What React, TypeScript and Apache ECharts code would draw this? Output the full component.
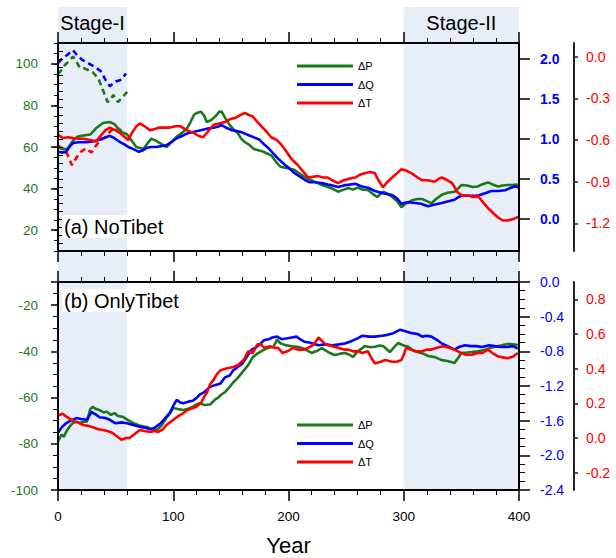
import React, { useEffect, useRef } from "react";
import * as echarts from "echarts";

type Pt = [number, number];

const FONT = '"Liberation Sans", Arial, Helvetica, sans-serif';
const GREEN = "#1a7a1a";
const BLUE = "#0000ff";
const RED = "#ff0000";
const SHADE = "#e8eef7";

const seriesNames = ["ΔP", "ΔQ", "ΔT"];
const stages: [string, number, number][] = [
  ["Stage-I", 0, 60],
  ["Stage-II", 300, 400],
];
const xTicks = [0, 100, 200, 300, 400];
const topLeftTicks = [20, 40, 60, 80, 100];
const topBlueTicks = [0, 0.5, 1.0, 1.5, 2.0];
const topRedTicks = [0, -0.3, -0.6, -0.9, -1.2];
const botRedTicks = [-0.2, 0, 0.2, 0.4, 0.6, 0.8];

// (a) NoTibet — dashed (years 0-60)
const topPDash: Pt[] = [[0,95],[3,97],[6,99.4],[9,101],[13,103.5],[16,101],[19,98],[22,98],[26,97],[30,96],[35,93],[39,87.4],[43,81.6],[46,83],[48,85],[52,81.6],[56,84],[60,86.5]];
const topQDash: Pt[] = [[0,1.95],[4,2.01],[8,2.05],[13,2.11],[17,2.04],[21,1.99],[26,1.95],[32,1.9],[37,1.85],[42,1.72],[45,1.66],[50,1.72],[55,1.74],[59,1.82]];
const topTDash: Pt[] = [[0,-0.64],[4,-0.66],[8,-0.7],[12,-0.78],[15,-0.74],[19,-0.69],[24,-0.66],[29,-0.69],[33,-0.64],[37,-0.6],[41,-0.58],[45,-0.54],[49,-0.51],[53,-0.52],[57,-0.55]];

// (a) NoTibet — solid
const topP: Pt[] = [[0,60],[4,59],[8,59],[13,63],[17,65],[22,65.5],[28,66],[33,69],[39,71.5],[45,72],[49,71],[52,69],[56,67],[60,66],[64,63],[68,60],[71,59.5],[74,59],[78,62],[81,64],[85,63],[88,62],[91,61],[94,60],[98,62],[103,65],[108,67],[112,69],[115,72],[118,75.5],[121,76.5],[124,77],[127,75],[129,72],[133,73],[137,75],[140,77],[142,77],[145,74],[149,70.6],[153,68],[156,66.7],[159,64],[162,62.4],[166,61],[170,59],[173,58.6],[177,58],[181,57],[185,56],[189,53],[193,50.5],[197,50],[201,49.5],[205,49],[209,47.5],[214,45.6],[218,44.5],[222,43.5],[229,41.7],[233,41],[238,40],[243,38.5],[248,39.5],[252,40.3],[256,39.5],[260,40.5],[264,39.5],[269,39.3],[273,37.5],[277,36],[282,38.5],[286,37.5],[290,36],[294,34],[298,31],[301,32.5],[304,33.5],[308,34.5],[312,35],[316,35],[320,34],[324,33],[328,35],[333,37],[338,38],[344,38.5],[347,40],[350,41.7],[355,41.5],[360,40.8],[364,41],[368,42],[373,43],[377,42],[382,41],[386,41.5],[390,41.7],[395,41.8],[399,42]];
const topQ: Pt[] = [[0,0.84],[4,0.83],[7,0.84],[10,0.9],[13,0.95],[18,0.96],[24,0.96],[30,0.97],[36,0.99],[41,1.02],[45,1.04],[49,1.01],[54,0.96],[58,0.93],[61,0.9],[66,0.87],[70,0.84],[74,0.86],[77,0.89],[81,0.9],[85,0.9],[89,0.91],[94,0.92],[98,0.96],[103,1.01],[108,1.04],[112,1.07],[118,1.09],[124,1.11],[130,1.13],[135,1.14],[140,1.16],[142,1.175],[146,1.14],[151,1.11],[155,1.1],[160,1.08],[165,1.05],[170,1.02],[175,0.99],[179,0.93],[183,0.88],[188,0.8],[192,0.74],[197,0.675],[201,0.63],[205,0.575],[210,0.53],[214,0.49],[218,0.46],[223,0.46],[229,0.45],[234,0.43],[238,0.42],[243,0.4],[248,0.42],[253,0.43],[258,0.44],[263,0.41],[269,0.39],[275,0.35],[281,0.325],[286,0.31],[290,0.3],[294,0.26],[298,0.19],[303,0.21],[310,0.2],[315,0.19],[321,0.16],[327,0.18],[333,0.2],[338,0.22],[344,0.24],[347,0.27],[350,0.29],[357,0.29],[364,0.29],[370,0.32],[376,0.35],[382,0.35],[388,0.36],[393,0.39],[397,0.41],[400,0.39]];
const topT: Pt[] = [[0,-0.56],[4,-0.585],[9,-0.58],[13,-0.585],[18,-0.59],[22,-0.59],[28,-0.6],[33,-0.61],[37,-0.57],[41,-0.53],[45,-0.51],[50,-0.53],[54,-0.55],[58,-0.58],[61,-0.6],[64,-0.55],[68,-0.5],[71,-0.48],[75,-0.5],[80,-0.53],[84,-0.52],[88,-0.51],[93,-0.51],[97,-0.51],[102,-0.5],[106,-0.5],[112,-0.53],[118,-0.55],[122,-0.57],[126,-0.58],[130,-0.54],[135,-0.49],[140,-0.48],[145,-0.47],[149,-0.45],[154,-0.44],[158,-0.42],[162,-0.405],[166,-0.42],[169,-0.43],[173,-0.47],[177,-0.505],[181,-0.54],[185,-0.58],[190,-0.6],[194,-0.635],[198,-0.68],[203,-0.74],[208,-0.78],[212,-0.82],[217,-0.87],[221,-0.865],[226,-0.86],[230,-0.87],[234,-0.87],[238,-0.89],[243,-0.91],[248,-0.89],[252,-0.88],[258,-0.87],[262,-0.85],[266,-0.84],[271,-0.83],[275,-0.84],[278,-0.89],[282,-0.94],[286,-0.9],[290,-0.87],[294,-0.84],[298,-0.81],[302,-0.82],[307,-0.84],[312,-0.87],[316,-0.89],[321,-0.89],[327,-0.9],[330,-0.88],[333,-0.87],[338,-0.89],[342,-0.91],[347,-0.98],[351,-1.0],[356,-1.0],[360,-1.01],[364,-1.0],[368,-1.04],[373,-1.09],[378,-1.13],[382,-1.16],[386,-1.18],[390,-1.18],[395,-1.17],[400,-1.15]];

// (b) OnlyTibet
const botP: Pt[] = [[0,-79],[3,-76],[5,-77],[8,-74],[10,-72.6],[13,-71],[16,-70.5],[19,-71],[22,-70.5],[25,-70.5],[28,-65],[30,-64],[33,-65],[36,-65.4],[40,-66.5],[42,-66],[46,-67.5],[49,-66.7],[52,-68],[56,-68.3],[60,-69.5],[65,-71],[70,-72],[74,-72.5],[77,-72.6],[82,-74],[86,-74],[90,-72],[94,-68.8],[97,-67],[100,-64.5],[104,-65],[109,-65.4],[113,-64.8],[117,-64],[120,-63],[123,-62.4],[127,-63.2],[132,-63],[136,-61],[139,-60],[141,-59],[145,-57.6],[148,-56],[152,-53.5],[156,-51.5],[160,-49],[165,-46],[169,-42.5],[173,-41],[178,-39.5],[182,-38.6],[187,-38],[190,-35],[193,-36.5],[197,-37.3],[203,-37.8],[208,-38],[214,-39],[220,-40.7],[224,-40],[229,-38.6],[235,-40.5],[240,-41.6],[245,-41],[249,-40.7],[253,-41.5],[256,-42.4],[260,-40],[264,-38.6],[266,-37.7],[271,-38.2],[275,-38],[279,-37.5],[282,-37.7],[288,-40.3],[292,-38],[295,-36.4],[300,-37.5],[304,-38],[308,-39.5],[312,-40.3],[317,-41],[321,-42],[327,-42.5],[333,-43.8],[338,-44.2],[344,-45],[347,-43],[350,-40.7],[355,-40.5],[359,-40.3],[364,-40],[370,-39.4],[375,-38.5],[379,-38],[384,-37.5],[390,-36.8],[395,-37],[399,-37.3]];
const botQ: Pt[] = [[0,-1.74],[3,-1.68],[7,-1.63],[11,-1.6],[16,-1.57],[20,-1.58],[25,-1.59],[29,-1.5],[33,-1.53],[36,-1.56],[41,-1.57],[45,-1.59],[50,-1.63],[55,-1.62],[60,-1.63],[65,-1.65],[71,-1.67],[75,-1.68],[80,-1.7],[84,-1.68],[89,-1.63],[93,-1.57],[97,-1.51],[100,-1.43],[103,-1.36],[106,-1.39],[109,-1.4],[113,-1.38],[117,-1.37],[120,-1.34],[123,-1.3],[127,-1.27],[132,-1.21],[136,-1.19],[141,-1.17],[145,-1.1],[149,-1.08],[152,-1.02],[156,-0.98],[160,-0.94],[164,-0.86],[168,-0.78],[171,-0.76],[175,-0.72],[179,-0.67],[183,-0.66],[186,-0.64],[190,-0.63],[194,-0.66],[199,-0.65],[203,-0.64],[207,-0.63],[210,-0.66],[214,-0.69],[219,-0.7],[226,-0.73],[232,-0.72],[238,-0.73],[244,-0.72],[249,-0.71],[255,-0.68],[260,-0.65],[264,-0.62],[270,-0.63],[275,-0.63],[281,-0.62],[286,-0.61],[291,-0.59],[297,-0.55],[302,-0.57],[307,-0.59],[312,-0.6],[316,-0.63],[320,-0.62],[324,-0.63],[329,-0.67],[333,-0.71],[338,-0.74],[344,-0.78],[348,-0.75],[353,-0.73],[358,-0.74],[363,-0.74],[368,-0.75],[374,-0.73],[379,-0.74],[384,-0.75],[390,-0.75],[395,-0.74],[399,-0.77]];
const botT: Pt[] = [[0,0.13],[4,0.14],[8,0.12],[13,0.1],[17,0.09],[22,0.075],[26,0.07],[31,0.06],[35,0.05],[39,0.046],[43,0.04],[47,0.03],[51,0.01],[55,-0.01],[59,0.0],[62,0.0],[66,0.02],[71,0.046],[75,0.04],[80,0.035],[84,0.04],[87,0.035],[91,0.05],[94,0.075],[99,0.1],[103,0.12],[108,0.14],[112,0.16],[116,0.17],[120,0.18],[124,0.2],[127,0.24],[129,0.26],[132,0.31],[135,0.335],[138,0.37],[141,0.39],[145,0.4],[149,0.405],[152,0.41],[156,0.42],[161,0.45],[165,0.5],[169,0.49],[173,0.54],[176,0.54],[179,0.52],[184,0.53],[188,0.52],[191,0.52],[195,0.49],[199,0.5],[204,0.52],[208,0.51],[213,0.51],[217,0.52],[222,0.54],[226,0.58],[229,0.56],[232,0.54],[238,0.53],[243,0.52],[248,0.51],[252,0.51],[256,0.5],[260,0.5],[264,0.49],[269,0.5],[272,0.46],[275,0.43],[280,0.44],[284,0.45],[290,0.44],[294,0.44],[298,0.45],[300,0.48],[302,0.52],[306,0.51],[310,0.5],[316,0.5],[320,0.51],[324,0.51],[329,0.52],[334,0.53],[339,0.52],[344,0.51],[350,0.49],[354,0.48],[359,0.48],[364,0.49],[368,0.49],[373,0.51],[377,0.49],[382,0.47],[386,0.465],[390,0.46],[395,0.47],[399,0.49]];

function xAxisDef(gridIndex: number, position: "top" | "bottom", labels: boolean) {
  return {
    type: "value",
    gridIndex,
    position,
    min: xTicks[0],
    max: xTicks[xTicks.length - 1],
    interval: 100,
    z: 5,
    axisLine: { show: true, onZero: false, lineStyle: { color: "#000", width: 2 } },
    axisTick: { show: true, inside: false, length: 11, lineStyle: { color: "#000", width: 1.5 } },
    minorTick: { show: true, splitNumber: 5, length: 5, lineStyle: { color: "#000", width: 1 } },
    splitLine: { show: false },
    minorSplitLine: { show: false },
    axisLabel: { show: labels, color: "#000", fontSize: 13.5, fontFamily: FONT, margin: 19 },
    ...(labels
      ? {
          name: "Year",
          nameLocation: "middle",
          nameGap: 44,
          nameTextStyle: { fontSize: 22, color: "#000", fontFamily: FONT },
        }
      : {}),
  };
}

function yAxisDef(o: any) {
  return {
    type: "value",
    z: 5,
    splitLine: { show: false },
    minorSplitLine: { show: false },
    ...o,
  };
}

const fmt1 = (v: number) => (Math.abs(v) < 1e-9 ? "0.0" : v.toFixed(1));

export default function App() {
  const ref = useRef<HTMLDivElement>(null);
  useEffect(() => {
    if (!ref.current) return;
    const chart = echarts.init(ref.current, undefined, { renderer: "svg" });
    const line = (name: string, data: Pt[], xi: number, yi: number, color: string, dashed = false) => ({
      type: "line",
      name,
      data,
      xAxisIndex: xi,
      yAxisIndex: yi,
      symbol: "none",
      showSymbol: false,
      z: 3,
      color,
      lineStyle: { color, width: 2.6, type: dashed ? [6, 4] : "solid" },
      silent: true,
    });
    const legendDef = (top: number) => ({
      data: seriesNames,
      orient: "vertical",
      left: 297,
      top,
      padding: 0,
      itemWidth: 56,
      itemHeight: 3,
      itemGap: 5.5,
      icon: "rect",
      selectedMode: false,
      textStyle: { fontSize: 11, color: "#000", fontFamily: FONT, lineHeight: 13 },
    });
    const titleDef = (text: string, top: number) => ({
      text,
      left: 62,
      top,
      padding: [2, 3, 1, 2],
      backgroundColor: "#fff",
      textStyle: { fontSize: 20, fontWeight: "normal", color: "#000", fontFamily: FONT },
    });
    chart.setOption({
      animation: false,
      textStyle: { fontFamily: FONT },
      title: [titleDef("(a) NoTibet", 215), titleDef("(b) OnlyTibet", 289)],
      legend: [legendDef(59.5), legendDef(418.5)],
      grid: [
        { left: 58, top: 43, width: 461, height: 208 },
        { left: 58, top: 282, width: 461, height: 208 },
        { left: 58, top: 7, width: 461, height: 483 },
      ],
      xAxis: [
        xAxisDef(0, "bottom", false),
        xAxisDef(0, "top", false),
        xAxisDef(1, "bottom", true),
        xAxisDef(1, "top", false),
        { type: "value", gridIndex: 2, min: 0, max: 400, show: false },
      ],
      yAxis: [
        // 0: top left (P) major
        yAxisDef({
          gridIndex: 0, position: "left", min: 10, max: 110,
          axisLine: { show: true, onZero: false, lineStyle: { color: "#000", width: 2 } },
          axisTick: { show: true, customValues: topLeftTicks, length: 7, lineStyle: { color: "#000", width: 1.5 } },
          axisLabel: { customValues: topLeftTicks, color: GREEN, fontSize: 13.5, fontFamily: FONT, margin: 20, formatter: (v: number) => String(Math.round(v)) },
        }),
        // 1: top left minor
        yAxisDef({
          gridIndex: 0, position: "left", min: 10, max: 110, interval: 5,
          axisLine: { show: false },
          axisTick: { show: true, length: 4, lineStyle: { color: "#000", width: 1 } },
          axisLabel: { show: false },
        }),
        // 2: top right (Q) major
        yAxisDef({
          gridIndex: 0, position: "right", min: -0.4, max: 2.2,
          axisLine: { show: true, onZero: false, lineStyle: { color: "#000", width: 2 } },
          axisTick: { show: true, customValues: topBlueTicks, length: 11, lineStyle: { color: "#000", width: 1.5 } },
          axisLabel: { customValues: topBlueTicks, color: BLUE, fontSize: 14, fontWeight: "bold", fontFamily: FONT, margin: 21, formatter: fmt1 },
        }),
        // 3: top right minor
        yAxisDef({
          gridIndex: 0, position: "right", min: -0.4, max: 2.2, interval: 0.1,
          axisLine: { show: false },
          axisTick: { show: true, length: 5, lineStyle: { color: "#000", width: 1 } },
          axisLabel: { show: false },
        }),
        // 4: top red (T)
        yAxisDef({
          gridIndex: 0, position: "right", offset: 55, min: -1.4, max: 0.1,
          axisLine: { show: true, onZero: false, lineStyle: { color: "#222", width: 2 } },
          axisTick: { show: true, customValues: topRedTicks, length: 4, lineStyle: { color: "#222", width: 1.5 } },
          axisLabel: { customValues: topRedTicks, color: RED, fontSize: 14, fontFamily: FONT, margin: 12, formatter: fmt1 },
        }),
        // 5: bottom left (P)
        yAxisDef({
          gridIndex: 1, position: "left", min: -100, max: -10, interval: 20,
          axisLine: { show: true, onZero: false, lineStyle: { color: "#000", width: 2 } },
          axisTick: { show: true, length: 7, lineStyle: { color: "#000", width: 1.5 } },
          minorTick: { show: true, splitNumber: 4, length: 5, lineStyle: { color: "#000", width: 1 } },
          axisLabel: { color: GREEN, fontSize: 13.5, fontFamily: FONT, margin: 20, showMaxLabel: false },
        }),
        // 6: bottom right (Q)
        yAxisDef({
          gridIndex: 1, position: "right", min: -2.4, max: 0, interval: 0.4,
          axisLine: { show: true, onZero: false, lineStyle: { color: "#000", width: 2 } },
          axisTick: { show: true, length: 11, lineStyle: { color: "#000", width: 1.5 } },
          minorTick: { show: true, splitNumber: 4, length: 6, lineStyle: { color: "#000", width: 1 } },
          axisLabel: { color: BLUE, fontSize: 14, fontFamily: FONT, margin: 21, formatter: fmt1 },
        }),
        // 7: bottom red (T)
        yAxisDef({
          gridIndex: 1, position: "right", offset: 55, min: -0.3, max: 0.9,
          axisLine: { show: true, onZero: false, lineStyle: { color: "#222", width: 2 } },
          axisTick: { show: true, customValues: botRedTicks, length: 4, lineStyle: { color: "#222", width: 1.5 } },
          axisLabel: { customValues: botRedTicks, color: RED, fontSize: 14, fontFamily: FONT, margin: 12, formatter: fmt1 },
        }),
        // 8: shading grid
        { type: "value", gridIndex: 2, min: 0, max: 1, show: false },
      ],
      series: [
        {
          type: "line",
          name: "stages",
          xAxisIndex: 4,
          yAxisIndex: 8,
          data: [[0, 0]],
          symbol: "none",
          lineStyle: { opacity: 0 },
          silent: true,
          z: 1,
          markArea: {
            silent: true,
            itemStyle: { color: SHADE },
            label: { show: true, position: "insideTop", distance: 6, fontSize: 20, color: "#000", fontFamily: FONT },
            data: stages.map(([n, a, b]) => [{ name: n, xAxis: a }, { xAxis: b }]),
          },
        },
        line("ΔP (dashed)", topPDash, 0, 0, GREEN, true),
        line("ΔQ (dashed)", topQDash, 0, 2, BLUE, true),
        line("ΔT (dashed)", topTDash, 0, 4, RED, true),
        line("ΔP", topP, 0, 0, GREEN),
        line("ΔQ", topQ, 0, 2, BLUE),
        line("ΔT", topT, 0, 4, RED),
        line("ΔP", botP, 2, 5, GREEN),
        line("ΔQ", botQ, 2, 6, BLUE),
        line("ΔT", botT, 2, 7, RED),
      ],
    });
    return () => chart.dispose();
  }, []);
  return (
    <div
      ref={ref}
      style={{ position: "fixed", left: 0, top: 0, width: 616, height: 558, background: "#fff" }}
    />
  );
}
